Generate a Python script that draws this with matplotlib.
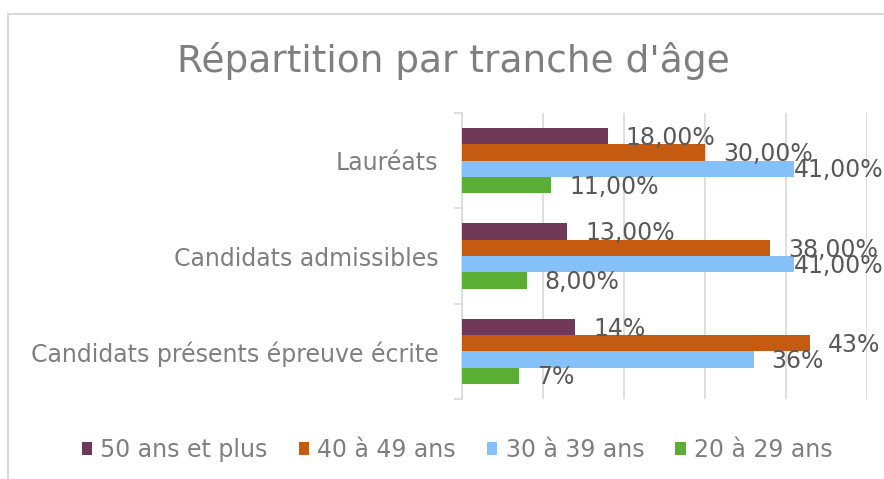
import matplotlib
matplotlib.use("Agg")
import matplotlib.pyplot as plt
from matplotlib.patches import Patch, Rectangle
import numpy as np

plt.rcParams['font.family'] = ['DejaVu Sans']

categories = ["Candidats présents épreuve écrite", "Candidats admissibles", "Lauréats"]
series_names = ["50 ans et plus", "40 à 49 ans", "30 à 39 ans", "20 à 29 ans"]
# values per series, in order of categories (bottom to top)
v_50plus = [0.14, 0.13, 0.18]
v_40_49 = [0.43, 0.38, 0.30]
v_30_39 = [0.36, 0.41, 0.41]
v_20_29 = [0.07, 0.08, 0.11]
lbl_50plus = ["14%", "13,00%", "18,00%"]
lbl_40_49 = ["43%", "38,00%", "30,00%"]
lbl_30_39 = ["36%", "41,00%", "41,00%"]
lbl_20_29 = ["7%", "8,00%", "11,00%"]
x_ticks = [0.0, 0.1, 0.2, 0.3, 0.4, 0.5]

colors = ["#6F3856", "#C55A11", "#85C0F9", "#5AAE33"]
values = [v_50plus, v_40_49, v_30_39, v_20_29]
labels = [lbl_50plus, lbl_40_49, lbl_30_39, lbl_20_29]

W, H = 884, 479
fig = plt.figure(figsize=(W / 100, H / 100), dpi=100)
fig.patch.set_facecolor("white")

# chart border
fig.add_artist(Rectangle((8 / W, -0.2), 1.2, 1.2 - 14 / H, transform=fig.transFigure,
                         fill=False, edgecolor="#D9D9D9", linewidth=1.5))

ax = fig.add_axes([462 / W, 1 - 399 / H, (867 - 462) / W, (399 - 113) / H])
ax.set_xlim(0, 0.5)
ax.set_ylim(0, 3)

bar_h = 0.171
n = len(values)
centers = np.arange(len(categories)) + 0.5
for i, (vals, col) in enumerate(zip(values, colors)):
    y = centers + (n / 2 - i - 0.5) * bar_h
    ax.barh(y, vals, height=bar_h, color=col, edgecolor="none", zorder=3)

ax.set_xticks(x_ticks)
ax.xaxis.grid(True, color="#D9D9D9", linewidth=1.2, zorder=0)
ax.tick_params(axis="x", length=0, labelbottom=False)
for s in ["top", "right", "bottom"]:
    ax.spines[s].set_visible(False)
ax.spines["left"].set_color("#D9D9D9")
ax.spines["left"].set_linewidth(1.2)

ax.set_yticks(np.arange(len(categories) + 1))
ax.set_yticklabels([])
ax.tick_params(axis="y", which="major", length=6, color="#D9D9D9", width=1.2)
ax.set_yticks(centers, minor=True)
ax.set_yticklabels(categories, minor=True, fontsize=17, color="#7F7F7F")
ax.tick_params(axis="y", which="minor", length=0, pad=17)

# data labels
texts = []
for i, (vals, lbls) in enumerate(zip(values, labels)):
    y = centers + (n / 2 - i - 0.5) * bar_h
    for v, yy, t in zip(vals, y, lbls):
        an = ax.annotate(t, xy=(v, yy), xytext=(13, -1.2), textcoords="offset points",
                         ha="left", va="center", fontsize=17, color="#595959",
                         annotation_clip=False, zorder=5)
        texts.append(an)

fig.canvas.draw()
r = fig.canvas.get_renderer()
for an in texts:
    bb = an.get_window_extent(r)
    if bb.x1 > W:
        an.set_position((0, -1.2))

fig.text(453 / W, 1 - 72 / H, "Répartition par tranche d'âge", ha="center", va="baseline",
         fontsize=27, color="#7F7F7F")

handles = [Patch(facecolor=c, edgecolor="none") for c in colors]
leg = fig.legend(handles, series_names, loc="center", bbox_to_anchor=(457 / W, 1 - 450 / H),
                 ncol=4, frameon=False, fontsize=17, labelcolor="#7F7F7F",
                 handlelength=0.45, handleheight=0.45, handletextpad=0.35, columnspacing=1.3,
                 borderpad=0)

fig.savefig("out.png", dpi=100, facecolor="white")
